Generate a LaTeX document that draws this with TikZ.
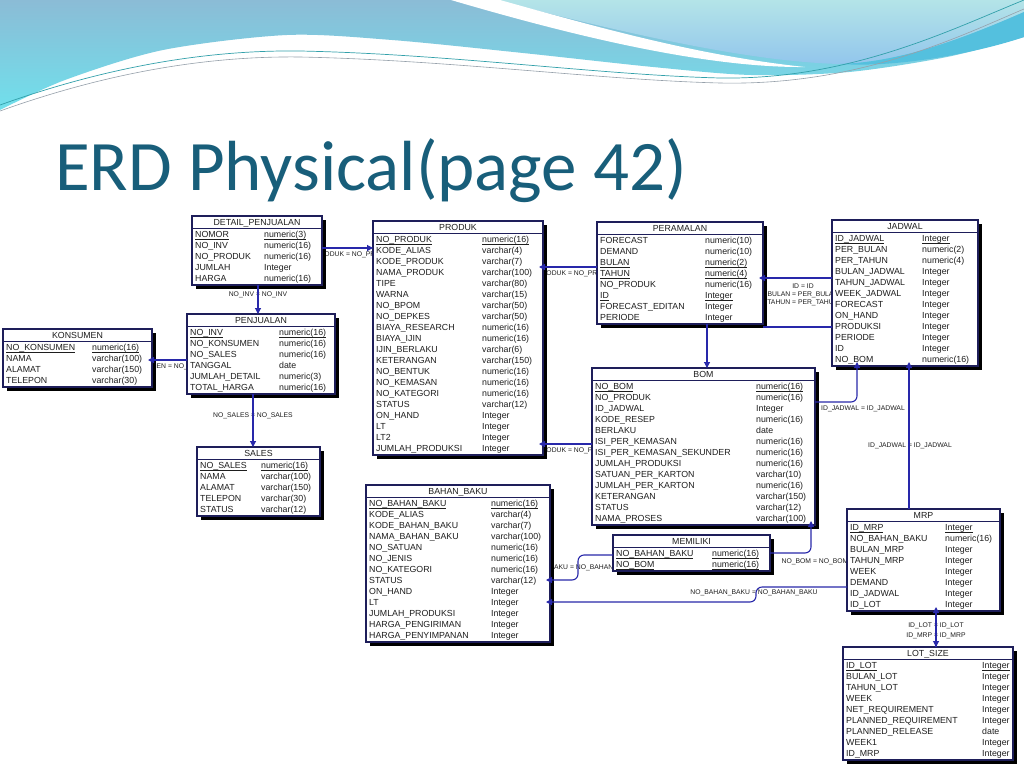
\documentclass[tikz,border=0pt]{standalone}
\usepackage{fontspec}
\setmainfont{Liberation Sans}
\newfontfamily\titlefont{Carlito}
\usetikzlibrary{arrows.meta}
\definecolor{navy}{RGB}{30,30,90}
\definecolor{relblue}{RGB}{40,40,170}
\definecolor{titleteal}{RGB}{24,94,122}
\definecolor{txt}{RGB}{30,30,30}
\definecolor{waveTop}{RGB}{139,188,214}
\definecolor{waveBot}{RGB}{112,224,236}
\definecolor{tealTop}{RGB}{180,228,232}
\definecolor{tealBot}{RGB}{146,198,236}
\definecolor{band}{RGB}{84,192,222}
\definecolor{lineA}{RGB}{50,160,170}
\definecolor{lineB}{RGB}{150,160,170}
\newcommand\rowfont{\fontsize{8.8}{10}\selectfont}
\newcommand\lblfont{\fontsize{6.8}{8}\selectfont}
\newcommand\pkline[1]{\underline{\smash{#1}}}
\tikzset{
  tablebox/.style={draw=navy, line width=1.3pt, fill=white, inner sep=0pt, outer sep=0pt},
  rowtext/.style={anchor=base west, inner sep=0pt, font=\rowfont, text=txt},
  titletext/.style={anchor=base, inner sep=0pt, font=\rowfont, text=txt},
  lbl/.style={anchor=base, inner sep=0pt, font=\lblfont, text=txt},
  rel/.style={draw=relblue, line width=1.1pt},
  relarrow/.style={rel, -{Triangle[length=6pt,width=6pt]}},
  extend/.style={shorten >=-4pt}
}
% #1 name, #2 left, #3 top, #4 width, #5 type column offset, #6 rows, #7 title, #8 rows list
\newcommand\erdtable[8]{%
  \fill[black] (#2+4,#3+4) rectangle (#2+#4+4,#3+11*#6+18);
  \node[tablebox, anchor=north west, minimum width=#4, minimum height={11*#6+14}] (#1) at (#2,#3) {};
  \draw[navy, line width=1pt] (#2,#3+12) -- (#2+#4,#3+12);
  \node[titletext] (#1-title) at (#2+#4/2,#3+9.5) {#7};
  \foreach \nm/\ty/\pk [count=\i] in {#8} {
    \pgfmathsetmacro\yy{#3+21.5+11*(\i-1)}
    \ifnum\pk=1
      \node[rowtext] (#1-n\i) at (#2+3,\yy) {\pkline{\nm}};
      \node[rowtext] (#1-t\i) at (#2+#5,\yy) {\pkline{\ty}};
    \else
      \node[rowtext] (#1-n\i) at (#2+3,\yy) {\nm};
      \node[rowtext] (#1-t\i) at (#2+#5,\yy) {\ty};
    \fi
  }
}
\begin{document}
\begin{tikzpicture}[x=1pt,y=-1pt]
\useasboundingbox (0,0) rectangle (1024,768);
\fill[white] (0,0) rectangle (1024,768);
% ---------- header waves ----------
\shade[top color=waveTop, bottom color=waveBot]
  (0,0) -- (1024,0) -- plot[smooth] coordinates {(1024,37) (947,57) (849,72) (751,75) (653,67) (523,53) (392,40) (287,35) (163,50) (65,80) (0,110)} -- cycle;
\shade[top color=tealTop, bottom color=tealBot]
  (496,0) -- (1024,0) -- (1024,12) .. controls (960,40) and (900,62) .. (840,64) .. controls (760,62) and (650,40) .. (496,0) -- cycle;
\fill[band]
  (1024,12) .. controls (960,40) and (900,62) .. (840,64) .. controls (900,68) and (980,52) .. (1024,37) -- cycle;
\fill[white] (451,0) .. controls (560,32) and (700,68) .. (805,67) .. controls (700,56) and (600,28) .. (500,0) -- cycle;
\draw[lineA, line width=0.7pt]
  (0,105) .. controls (120,62) and (220,50) .. (300,51) .. controls (450,54) and (600,75) .. (720,78) .. controls (850,80) and (950,30) .. (1024,0);
\draw[lineB, line width=0.6pt]
  (0,111) .. controls (120,68) and (220,56) .. (300,57) .. controls (450,60) and (600,80) .. (720,83) .. controls (860,86) and (960,36) .. (1024,9);
% ---------- title ----------
\node[anchor=base west, inner sep=0pt, text=titleteal, font=\titlefont\fontsize{71}{80}\selectfont] (title) at (55,190) {ERD Physical(page 42)};
% ---------- relation labels (behind tables) ----------
\node[lbl] (l1) at (348,256) {NO\_PRODUK = NO\_PRODUK};
\node[lbl] (l2) at (258,296) {NO\_INV = NO\_INV};
\node[lbl] (l3) at (170,368) {NO\_KONSUMEN = NO\_KONSUMEN};
\node[lbl] (l4) at (253,417) {NO\_SALES = NO\_SALES};
\node[lbl] (l5) at (570,275) {NO\_PRODUK = NO\_PRODUK};
\node[lbl] (l6a) at (803,288) {ID = ID};
\node[lbl] (l6b) at (803,296) {BULAN = PER\_BULAN};
\node[lbl] (l6c) at (803,304) {TAHUN = PER\_TAHUN};
\node[lbl] (l7) at (570,452) {NO\_PRODUK = NO\_PRODUK};
\node[lbl] (l8) at (863,410) {ID\_JADWAL = ID\_JADWAL};
\node[lbl] (l9) at (910,447) {ID\_JADWAL = ID\_JADWAL};
\node[lbl] (l10) at (815,563) {NO\_BOM = NO\_BOM};
\node[lbl] (l11) at (572,569) {NO\_BAHAN\_BAKU = NO\_BAHAN\_BAKU};
\node[lbl] (l12) at (754,594) {NO\_BAHAN\_BAKU = NO\_BAHAN\_BAKU};
\node[lbl] (l13) at (936,627) {ID\_LOT = ID\_LOT};
\node[lbl] (l14) at (936,637) {ID\_MRP = ID\_MRP};
% ---------- tables ----------
\erdtable{detail}{192}{216}{130}{72}{5}{DETAIL\_PENJUALAN}{NOMOR/numeric(3)/1, NO\_INV/numeric(16)/0, NO\_PRODUK/numeric(16)/0, JUMLAH/Integer/0, HARGA/numeric(16)/0}
\erdtable{penjualan}{187}{314}{148}{92}{6}{PENJUALAN}{NO\_INV/numeric(16)/1, NO\_KONSUMEN/numeric(16)/0, NO\_SALES/numeric(16)/0, TANGGAL/date/0, JUMLAH\_DETAIL/numeric(3)/0, TOTAL\_HARGA/numeric(16)/0}
\erdtable{konsumen}{3}{329}{149}{89}{4}{KONSUMEN}{NO\_KONSUMEN/numeric(16)/1, NAMA/varchar(100)/0, ALAMAT/varchar(150)/0, TELEPON/varchar(30)/0}
\erdtable{sales}{197}{447}{123}{64}{5}{SALES}{NO\_SALES/numeric(16)/1, NAMA/varchar(100)/0, ALAMAT/varchar(150)/0, TELEPON/varchar(30)/0, STATUS/varchar(12)/0}
\erdtable{produk}{373}{221}{170}{109}{20}{PRODUK}{NO\_PRODUK/numeric(16)/1, KODE\_ALIAS/varchar(4)/0, KODE\_PRODUK/varchar(7)/0, NAMA\_PRODUK/varchar(100)/0, TIPE/varchar(80)/0, WARNA/varchar(15)/0, NO\_BPOM/varchar(50)/0, NO\_DEPKES/varchar(50)/0, BIAYA\_RESEARCH/numeric(16)/0, BIAYA\_IJIN/numeric(16)/0, IJIN\_BERLAKU/varchar(6)/0, KETERANGAN/varchar(150)/0, NO\_BENTUK/numeric(16)/0, NO\_KEMASAN/numeric(16)/0, NO\_KATEGORI/numeric(16)/0, STATUS/varchar(12)/0, ON\_HAND/Integer/0, LT/Integer/0, LT2/Integer/0, JUMLAH\_PRODUKSI/Integer/0}
\erdtable{peramalan}{597}{222}{166}{108}{8}{PERAMALAN}{FORECAST/numeric(10)/0, DEMAND/numeric(10)/0, BULAN/numeric(2)/1, TAHUN/numeric(4)/1, NO\_PRODUK/numeric(16)/0, ID/Integer/1, FORECAST\_EDITAN/Integer/0, PERIODE/Integer/0}
\erdtable{jadwal}{832}{220}{146}{90}{12}{JADWAL}{ID\_JADWAL/Integer/1, PER\_BULAN/numeric(2)/0, PER\_TAHUN/numeric(4)/0, BULAN\_JADWAL/Integer/0, TAHUN\_JADWAL/Integer/0, WEEK\_JADWAL/Integer/0, FORECAST/Integer/0, ON\_HAND/Integer/0, PRODUKSI/Integer/0, PERIODE/Integer/0, ID/Integer/0, NO\_BOM/numeric(16)/0}
\erdtable{bom}{592}{368}{223}{164}{13}{BOM}{NO\_BOM/numeric(16)/1, NO\_PRODUK/numeric(16)/0, ID\_JADWAL/Integer/0, KODE\_RESEP/numeric(16)/0, BERLAKU/date/0, ISI\_PER\_KEMASAN/numeric(16)/0, ISI\_PER\_KEMASAN\_SEKUNDER/numeric(16)/0, JUMLAH\_PRODUKSI/numeric(16)/0, SATUAN\_PER\_KARTON/varchar(10)/0, JUMLAH\_PER\_KARTON/numeric(16)/0, KETERANGAN/varchar(150)/0, STATUS/varchar(12)/0, NAMA\_PROSES/varchar(100)/0}
\erdtable{bahanbaku}{366}{485}{184}{125}{13}{BAHAN\_BAKU}{NO\_BAHAN\_BAKU/numeric(16)/1, KODE\_ALIAS/varchar(4)/0, KODE\_BAHAN\_BAKU/varchar(7)/0, NAMA\_BAHAN\_BAKU/varchar(100)/0, NO\_SATUAN/numeric(16)/0, NO\_JENIS/numeric(16)/0, NO\_KATEGORI/numeric(16)/0, STATUS/varchar(12)/0, ON\_HAND/Integer/0, LT/Integer/0, JUMLAH\_PRODUKSI/Integer/0, HARGA\_PENGIRIMAN/Integer/0, HARGA\_PENYIMPANAN/Integer/0}
\erdtable{memiliki}{613}{535}{157}{99}{2}{MEMILIKI}{NO\_BAHAN\_BAKU/numeric(16)/1, NO\_BOM/numeric(16)/1}
\erdtable{mrp}{847}{509}{153}{98}{8}{MRP}{ID\_MRP/Integer/1, NO\_BAHAN\_BAKU/numeric(16)/0, BULAN\_MRP/Integer/0, TAHUN\_MRP/Integer/0, WEEK/Integer/0, DEMAND/Integer/0, ID\_JADWAL/Integer/0, ID\_LOT/Integer/0}
\erdtable{lotsize}{843}{647}{170}{139}{9}{LOT\_SIZE}{ID\_LOT/Integer/1, BULAN\_LOT/Integer/0, TAHUN\_LOT/Integer/0, WEEK/Integer/0, NET\_REQUIREMENT/Integer/0, PLANNED\_REQUIREMENT/Integer/0, PLANNED\_RELEASE/date/0, WEEK1/Integer/0, ID\_MRP/Integer/0}
% ---------- connectors ----------
\draw[relarrow] (detail.east |- 0,248) -- (produk.west |- 0,248);
\draw[relarrow] (detail.south -| 258,0) -- (penjualan.north -| 258,0);
\draw[relarrow, extend] (penjualan.west |- 0,360) -- (konsumen.east |- 0,360);
\draw[relarrow] (penjualan.south -| 253,0) -- (sales.north -| 253,0);
\draw[relarrow, extend] (peramalan.west |- 0,267) -- (produk.east |- 0,267);
\draw[relarrow, extend] (jadwal.west |- 0,278) -- (peramalan.east |- 0,278);
\draw[rel] (peramalan.east |- 0,327) -- (jadwal.west |- 0,327);
\draw[relarrow] (peramalan.south -| 707,0) -- (bom.north -| 707,0);
\draw[relarrow, extend] (bom.west |- 0,444) -- (produk.east |- 0,444);
\draw[relarrow, extend, rounded corners=6pt] (bom.east |- 0,402) -| (857,0 |- jadwal.south);
\draw[relarrow, extend] (mrp.north -| 909,0) -- (jadwal.south -| 909,0);
\draw[relarrow, extend, rounded corners=6pt] (memiliki.east |- 0,553) -| (811,0 |- bom.south);
\draw[relarrow, extend, rounded corners=6pt] (memiliki.west |- 0,555) -- (578,555) -- (578,580) -- (bahanbaku.east |- 0,580);
\draw[relarrow, extend, rounded corners=6pt] (mrp.west |- 0,587) -- (756,587) -- (756,602) -- (bahanbaku.east |- 0,602);
\draw[relarrow, extend] (lotsize.north -| 936,0) -- (mrp.south -| 936,0);
\draw[relarrow] (mrp.south -| 936,0) -- (lotsize.north -| 936,0);
\end{tikzpicture}
\end{document}
